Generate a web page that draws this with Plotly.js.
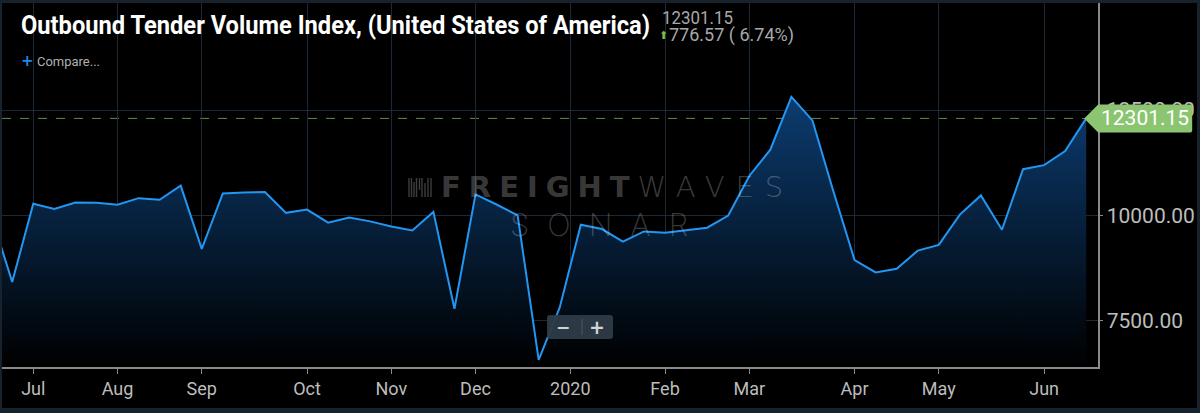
<!DOCTYPE html>
<html>
<head>
<meta charset="utf-8">
<script src="https://cdn.plot.ly/plotly-3.0.1.min.js"></script>
<style>
  html, body { margin:0; padding:0; background:#18222c; width:1200px; height:413px; overflow:hidden; }
  #chart { position:absolute; left:2px; top:3px; width:1195px; height:405px; }
</style>
</head>
<body>
<div id="chart"></div>
<script>
// ---- data (weekly points) ----
const dates = [
  '2019-06-23','2019-06-30','2019-07-07','2019-07-14','2019-07-21','2019-07-28',
  '2019-08-04','2019-08-11','2019-08-18','2019-08-25','2019-09-01','2019-09-08',
  '2019-09-15','2019-09-22','2019-09-29','2019-10-06','2019-10-13','2019-10-20',
  '2019-10-27','2019-11-03','2019-11-10','2019-11-17','2019-11-24','2019-12-01',
  '2019-12-08','2019-12-15','2019-12-22','2019-12-29','2020-01-05','2020-01-12',
  '2020-01-19','2020-01-26','2020-02-02','2020-02-09','2020-02-16','2020-02-23',
  '2020-03-01','2020-03-08','2020-03-15','2020-03-22','2020-03-29','2020-04-05',
  '2020-04-12','2020-04-19','2020-04-26','2020-05-03','2020-05-10','2020-05-17',
  '2020-05-24','2020-05-31','2020-06-07','2020-06-14','2020-06-21'
];
const otvi = [
  10000, 8418, 10273, 10153, 10304, 10297,
  10249, 10407, 10369, 10705, 9202, 10520,
  10544, 10551, 10058, 10137, 9825, 9945,
  9856, 9736, 9640, 10081, 7780, 10496,
  10256, 10000, 6565, 7812, 9777, 9674,
  9377, 9616, 9585, 9640, 9705, 9993,
  10935, 11558, 12814, 12253, 10560, 8938,
  8643, 8730, 9161, 9298, 10017, 10472,
  9657, 11095, 11191, 11524.58, 12301.15
];
const monthLabels = ['Jul','Aug','Sep','Oct','Nov','Dec','2020','Feb','Mar','Apr','May','Jun'];
const yTicks = [7500, 10000, 12500];
const titleText = 'Outbound Tender Volume Index, (United States of America)';
const lastValueText = '12301.15';
const changeText = '776.57 ( 6.74%)';

// ---- derived ----
const idx = dates.map((d, i) => i);
// month tick = first weekly point of each month; the year label sits half a step earlier
const tickVals = [];
for (let i = 1; i < dates.length; i++) {
  if (dates[i].slice(5, 7) !== dates[i - 1].slice(5, 7)) {
    tickVals.push(dates[i].slice(5, 7) === '01' ? i - 0.5 : i);
  }
}
const xRange = [0.515, 52.56];
const yRange = [6397, 15042];
const lastI = idx[idx.length - 1];
const lastV = otvi[otvi.length - 1];
const lastFrac = (lastI - xRange[0]) / (xRange[1] - xRange[0]);

// pixel helpers for decorations (plot area: x 2..1098, y 3..367 in the page)
const PX0 = 2, PX1 = 1098, PY0 = 3, PY1 = 367;
const px = x => (x - PX0) / (PX1 - PX0);
const py = y => (PY1 - y) / (PY1 - PY0);

const trace = {
  x: idx, y: otvi, type: 'scatter', mode: 'lines',
  line: { color: '#2196f3', width: 2 },
  fill: 'tozeroy',
  fillgradient: { type: 'vertical', start: yRange[0], stop: Math.max(...otvi),
    colorscale: [[0, 'rgb(0,0,0)'], [1, 'rgb(12,60,112)']] },
  hoverinfo: 'skip'
};

const shapes = [
  { type: 'line', xref: 'paper', yref: 'y', x0: 0, x1: lastFrac, y0: lastV, y1: lastV,
    line: { color: '#5f8f4c', width: 1, dash: 'dash' }, layer: 'below' },
  { type: 'path', xref: 'paper', yref: 'y', xsizemode: 'pixel', ysizemode: 'pixel',
    xanchor: lastFrac, yanchor: lastV,
    path: 'M -2,0 L 12,-14 L 104,-14 Q 106,-14 106,-12 L 106,12 Q 106,14 104,14 L 12,14 Z',
    fillcolor: '#8cc572', line: { width: 0 }, layer: 'above' },
  { type: 'path', xref: 'paper', yref: 'paper',
    path: `M ${px(550)},${py(315)} L ${px(610)},${py(315)} Q ${px(613)},${py(315)} ${px(613)},${py(318)} L ${px(613)},${py(336)} Q ${px(613)},${py(339)} ${px(610)},${py(339)} L ${px(550)},${py(339)} Q ${px(547)},${py(339)} ${px(547)},${py(336)} L ${px(547)},${py(318)} Q ${px(547)},${py(315)} ${px(550)},${py(315)} Z`,
    fillcolor: 'rgba(46,59,71,0.95)', line: { width: 0 }, layer: 'above' },
  { type: 'line', xref: 'paper', yref: 'paper', x0: px(582), x1: px(582), y0: py(319), y1: py(335),
    line: { color: '#4a5866', width: 1 }, layer: 'above' }
];
[[409,178,197],[411.5,178,197],[414,182,197],[416.5,178,197],[419.5,178,190],[422,178,197],[425,183,197],[428,178,197],[431,178,197]].forEach(b => {
  shapes.push({ type: 'line', xref: 'paper', yref: 'paper', x0: px(b[0]), x1: px(b[0]), y0: py(b[1]), y1: py(b[2]),
    line: { color: 'rgba(255,255,255,0.24)', width: 1.4 }, layer: 'above' });
});

// annotations; fitWidth = target rendered width in px (condensed look)
const annSpecs = [
  { x: 19, y: 25, text: titleText, font: { family: 'Roboto, sans-serif', size: 25, weight: 'bold', color: '#ffffff' }, fitWidth: 629 },
  { x: 660, y: 18, text: lastValueText, font: { family: 'Roboto, sans-serif', size: 18, color: '#a8a8a8' }, fitWidth: 71 },
  { x: 657, y: 35.5, text: '⬆', font: { family: 'DejaVu Sans, sans-serif', size: 11, color: '#7cc142' } },
  { x: 667, y: 34.5, text: changeText, font: { family: 'Roboto, sans-serif', size: 18, color: '#a8a8a8' }, fitWidth: 125 },
  { x: 19, y: 61, text: '+', font: { family: 'DejaVu Sans, sans-serif', size: 15, weight: 'bold', color: '#1e88e5' } },
  { x: 35, y: 62, text: 'Compare...', font: { family: 'Roboto, sans-serif', size: 13, color: '#b0b0b0' }, fitWidth: 63 },
  { x: 439, y: 187, text: '<b><span style="letter-spacing:8px">FREIGHT</span></b><span style="font-weight:200;letter-spacing:11px">WAVES</span>',
    font: { family: 'DejaVu Sans, sans-serif', size: 29, color: 'rgba(255,255,255,0.24)' } },
  { x: 508, y: 224, text: '<span style="letter-spacing:18px">SONAR</span>',
    font: { family: 'Inter, Lato, sans-serif', size: 31, weight: 200, color: 'rgba(255,255,255,0.22)' } }
];
const annotations = annSpecs.map(a => ({
  xref: 'paper', yref: 'paper', x: px(a.x), y: py(a.y), xanchor: 'left', yanchor: 'middle', align: 'left',
  showarrow: false, text: a.text, font: a.font
}));
annotations.push(
  { xref: 'paper', yref: 'paper', x: px(563), y: py(327), xanchor: 'center', yanchor: 'middle', showarrow: false,
    text: '<b>−</b>', font: { family: 'DejaVu Sans, sans-serif', size: 17, color: '#cfd4d8' } },
  { xref: 'paper', yref: 'paper', x: px(597), y: py(327), xanchor: 'center', yanchor: 'middle', showarrow: false,
    text: '<b>+</b>', font: { family: 'DejaVu Sans, sans-serif', size: 19, color: '#cfd4d8' } },
  { xref: 'paper', yref: 'y', x: lastFrac, y: lastV, xanchor: 'left', yanchor: 'middle', xshift: 13, showarrow: false,
    text: lastValueText, font: { family: 'Roboto, sans-serif', size: 21, color: '#ffffff' } }
);

const layout = {
  width: 1195, height: 405,
  margin: { l: 0, r: 99, t: 0, b: 41, pad: 0 },
  paper_bgcolor: '#000000', plot_bgcolor: '#000000',
  showlegend: false,
  xaxis: {
    range: xRange, tickmode: 'array', tickvals: tickVals, ticktext: monthLabels,
    showgrid: true, gridcolor: '#1b2937', gridwidth: 1, zeroline: false,
    showline: true, linecolor: '#8a8a8a', linewidth: 1.5,
    ticks: 'outside', ticklen: 5, tickcolor: '#8a8a8a', tickwidth: 1,
    tickfont: { family: 'Roboto, sans-serif', size: 18, color: '#bdbdbd' },
    fixedrange: true
  },
  yaxis: {
    side: 'right', range: yRange, tickmode: 'array', tickvals: yTicks, tickformat: '.2f',
    showgrid: true, gridcolor: '#1b2937', gridwidth: 1, zeroline: false,
    showline: true, linecolor: '#8a8a8a', linewidth: 1.5,
    ticks: 'outside', ticklen: 3, tickcolor: '#8a8a8a',
    tickfont: { family: 'Roboto, sans-serif', size: 21, color: '#bdbdbd' },
    fixedrange: true
  },
  shapes: shapes,
  annotations: annotations
};

Plotly.newPlot('chart', [trace], layout, { displayModeBar: false, staticPlot: true }).then(gd => {
  // condense selected texts to the widths measured on the reference
  gd.querySelectorAll('g.annotation').forEach(g => {
    const i = +g.getAttribute('data-index');
    const spec = annSpecs[i];
    if (spec && spec.fitWidth) {
      const t = g.querySelector('text.annotation-text');
      if (t) {
        t.setAttribute('textLength', spec.fitWidth);
        t.setAttribute('lengthAdjust', 'spacingAndGlyphs');
      }
    }
  });
});
</script>
</body>
</html>
